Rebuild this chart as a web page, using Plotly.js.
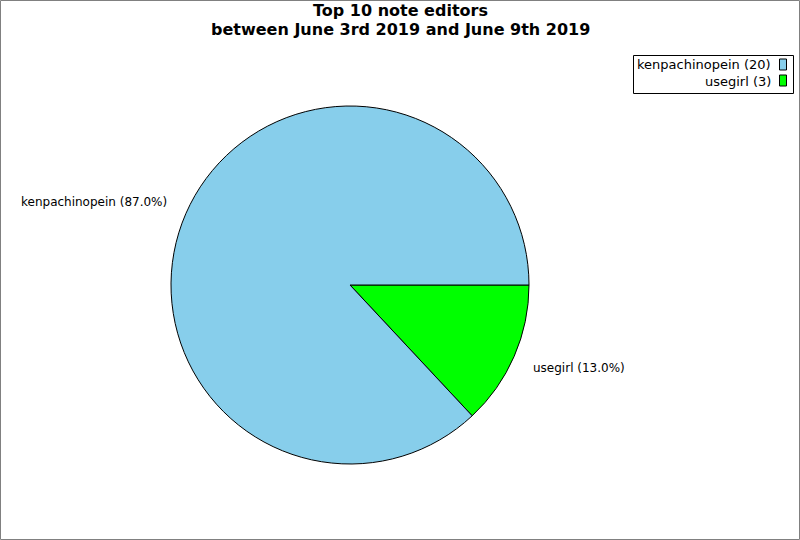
<!DOCTYPE html>
<html>
<head>
<meta charset="utf-8">
<script src="https://cdn.plot.ly/plotly-3.0.1.min.js"></script>
<style>html,body{margin:0;padding:0;background:#fff;}#chart{width:800px;height:540px;}</style>
</head>
<body>
<div id="chart"></div>
<script>
var editors = ["kenpachinopein", "usegirl"];
var edits = [20, 3];
var sliceColors = ["#87ceeb", "#00ff00"];
var titleLines = ["Top 10 note editors", "between June 3rd 2019 and June 9th 2019"];

var W = 800, H = 540;
var cx = 350, cy = 285, R = 179;
var px = function (x) { return x / W; };
var py = function (y) { return 1 - y / H; };
var FONT = "DejaVu Sans, sans-serif";

var total = edits.reduce(function (a, b) { return a + b; }, 0);

// Slices run counterclockwise from 3 o'clock in data order; drawn here as
// clockwise from 3 o'clock with the order reversed (same picture).
var trace = {
  type: "pie",
  labels: editors.slice().reverse(),
  values: edits.slice().reverse(),
  sort: false,
  direction: "clockwise",
  rotation: 90,
  textinfo: "none",
  hoverinfo: "label+value+percent",
  showlegend: false,
  marker: { colors: sliceColors.slice().reverse(), line: { color: "#000000", width: 1 } },
  domain: { x: [px(cx - R), px(cx + R)], y: [py(cy + R), py(cy - R)] }
};

var annotations = [];
var shapes = [];

// Title (two lines)
var titleY = [10.5, 29.5];
for (var t = 0; t < titleLines.length; t++) {
  annotations.push({
    xref: "paper", yref: "paper", x: 0.5, y: py(titleY[t]), xanchor: "center", yanchor: "middle",
    text: "<b>" + titleLines[t] + "</b>", showarrow: false,
    font: { family: FONT, size: 16, color: "#000" }
  });
}

// Slice labels placed around the mid-angle of each slice (computed from data)
var start = 0;
for (var i = 0; i < editors.length; i++) {
  var frac = edits[i] / total;
  var mid = (start + frac / 2) * 2 * Math.PI; // counterclockwise from east
  start += frac;
  var lx = cx + R * 1.1 * Math.cos(mid);
  var ly = cy - R * 1.165 * Math.sin(mid);
  annotations.push({
    xref: "paper", yref: "paper", x: px(lx), y: py(ly),
    xanchor: Math.cos(mid) < 0 ? "right" : "left", yanchor: "middle",
    text: editors[i] + " (" + (frac * 100).toFixed(1) + "%)", showarrow: false,
    font: { family: FONT, size: 12, color: "#000" }
  });
}

// Custom legend: text right-aligned, swatch on the right
shapes.push({ type: "rect", xref: "paper", yref: "paper",
  x0: px(633.5), x1: px(793.5), y0: py(55.5), y1: py(93.5),
  line: { color: "#000", width: 1 }, fillcolor: "#fff" });
for (var j = 0; j < editors.length; j++) {
  var rowY = 64.5 + j * 16;
  shapes.push({ type: "rect", xref: "paper", yref: "paper",
    x0: px(779.5), x1: px(786.5), y0: py(rowY - 5.5), y1: py(rowY + 5.5),
    line: { color: "#000", width: 1 }, fillcolor: sliceColors[j] });
  annotations.push({
    xref: "paper", yref: "paper", x: px(773), y: py(rowY + 0.5), xanchor: "right", yanchor: "middle",
    text: editors[j] + " (" + edits[j] + ")", showarrow: false,
    font: { family: FONT, size: 13, color: "#000" }
  });
}

// Outer frame
shapes.push({ type: "rect", xref: "paper", yref: "paper",
  x0: px(0.5), x1: px(799.5), y0: py(0.5), y1: py(539.5),
  line: { color: "#808080", width: 1 }, fillcolor: "rgba(0,0,0,0)" });

var layout = {
  width: W, height: H,
  margin: { l: 0, r: 0, t: 0, b: 0 },
  paper_bgcolor: "#fff",
  showlegend: false,
  annotations: annotations,
  shapes: shapes,
  font: { family: FONT }
};

Plotly.newPlot("chart", [trace], layout, { displayModeBar: false, staticPlot: true });
</script>
</body>
</html>
